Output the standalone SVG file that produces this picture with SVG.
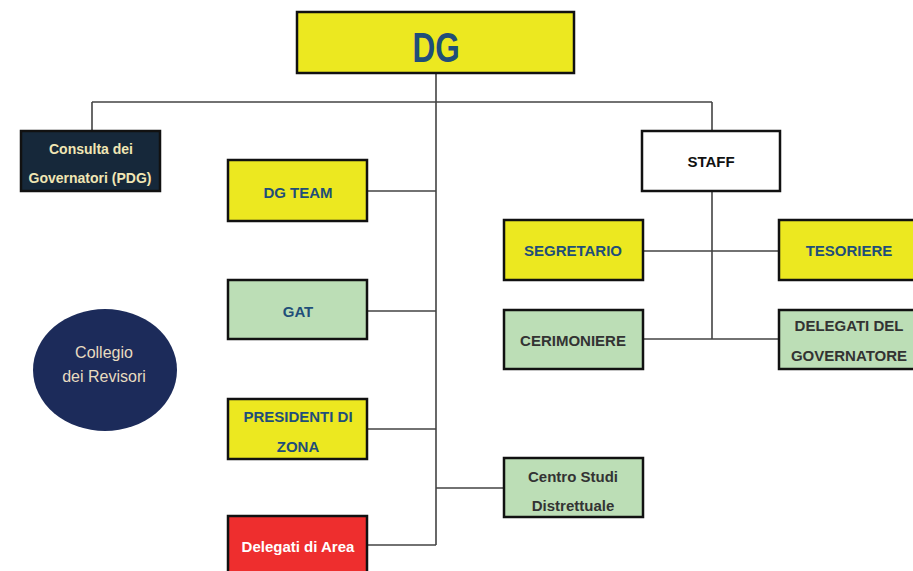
<svg xmlns="http://www.w3.org/2000/svg" width="913" height="571" viewBox="0 0 913 571">
<style>
.box{stroke:#111;stroke-width:2.5}
.y{fill:#ece820}
.g{fill:#bcdeb6}
.w{fill:#fff}
.t{font-family:"Liberation Sans",Arial,sans-serif;font-weight:bold;font-size:15px;text-anchor:middle}
.bl{fill:#1f4e79}
.dk{fill:#333}
.ln{stroke:#444;stroke-width:1.6;fill:none}
</style>
<rect width="913" height="571" fill="#fff"/>
<g id="connectors">
<path class="ln" d="M436 73V545M92 102H712M92 102V131M712 102V131M367 191H436M367 311H436M367 429H436M367 545H436M436 488H504M712 191V339M643 251H779M643 339H779"/>
</g>
<g id="dg"><rect class="box y" x="297" y="12" width="277" height="61"/><text class="t bl" transform="translate(436,62) scale(0.75,1)" font-size="42" style="font-size:42px">DG</text></g>
<g id="consulta"><rect class="box" fill="#16283a" x="21" y="131" width="139" height="60"/><text class="t" fill="#f0e6b4" style="font-size:14px" x="91" y="154">Consulta dei</text><text class="t" fill="#f0e6b4" style="font-size:14px" x="90" y="183">Governatori (PDG)</text></g>
<g id="dgteam"><rect class="box y" x="228" y="160" width="139" height="61"/><text class="t bl" x="298" y="198">DG TEAM</text></g>
<g id="gat"><rect class="box g" x="228" y="280" width="139" height="59"/><text class="t bl" x="298" y="317">GAT</text></g>
<g id="presidenti"><rect class="box y" x="228" y="399" width="139" height="60"/><text class="t bl" x="298" y="422">PRESIDENTI DI</text><text class="t bl" x="298" y="452">ZONA</text></g>
<g id="delegatiarea"><rect class="box" fill="#ee2e2e" x="228" y="516" width="139" height="70"/><text class="t" fill="#fff" x="298" y="552">Delegati di Area</text></g>
<g id="centrostudi"><rect class="box g" x="504" y="458" width="139" height="59"/><text class="t dk" x="573" y="482">Centro Studi</text><text class="t dk" x="573" y="511">Distrettuale</text></g>
<g id="staff"><rect class="box w" x="642" y="131" width="138" height="60"/><text class="t" fill="#111" x="711" y="167">STAFF</text></g>
<g id="segretario"><rect class="box y" x="504" y="220" width="139" height="60"/><text class="t bl" x="573" y="256">SEGRETARIO</text></g>
<g id="tesoriere"><rect class="box y" x="779" y="220" width="140" height="60"/><text class="t bl" x="849" y="256">TESORIERE</text></g>
<g id="cerimoniere"><rect class="box g" x="504" y="310" width="139" height="59"/><text class="t dk" x="573" y="346">CERIMONIERE</text></g>
<g id="delegatigov"><rect class="box g" x="779" y="310" width="140" height="59"/><text class="t dk" x="849" y="331">DELEGATI DEL</text><text class="t dk" x="849" y="361">GOVERNATORE</text></g>
<g id="collegio"><ellipse cx="105" cy="370" rx="72" ry="61" fill="#1c2b5a"/><text class="t" fill="#e8dcc0" style="font-weight:normal;font-size:16px" x="104" y="358">Collegio</text><text class="t" fill="#e8dcc0" style="font-weight:normal;font-size:16px" x="104" y="382">dei Revisori</text></g>
</svg>
